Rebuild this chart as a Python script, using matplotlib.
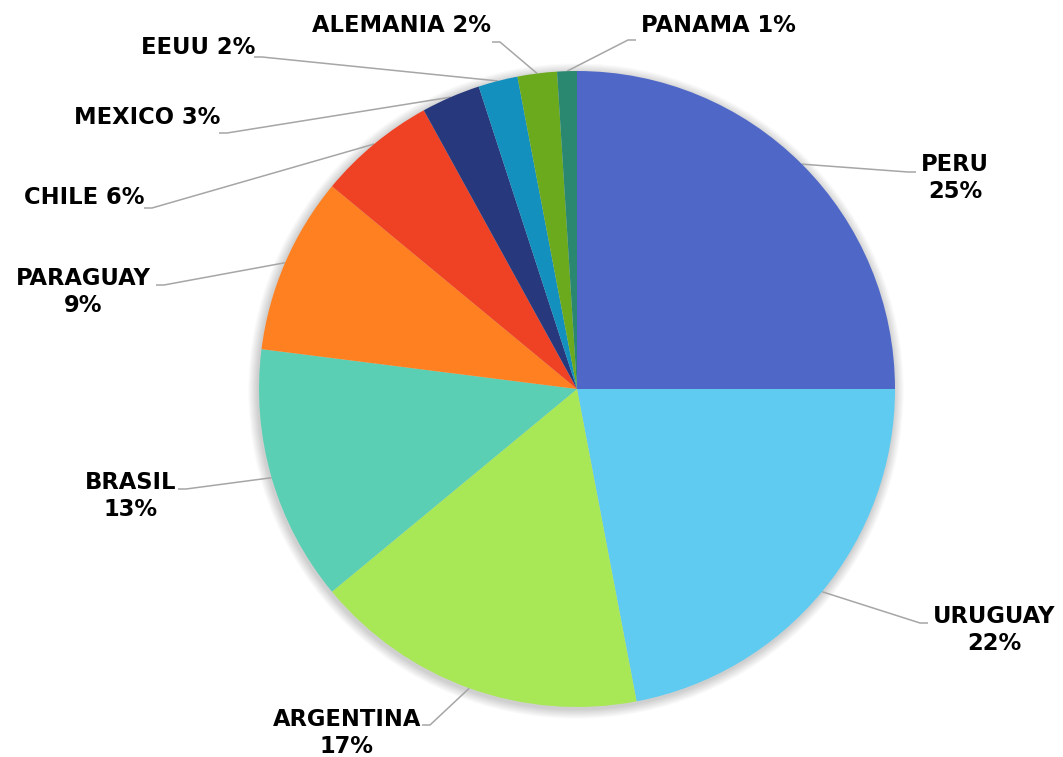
import numpy as np
import matplotlib.pyplot as plt
from matplotlib.patches import Circle

paises = ["PERU", "URUGUAY", "ARGENTINA", "BRASIL", "PARAGUAY",
          "CHILE", "MEXICO", "EEUU", "ALEMANIA", "PANAMA"]
porcentajes = [25, 22, 17, 13, 9, 6, 3, 2, 2, 1]
colores = ["#4F68C8", "#5FCBF1", "#A8E856", "#5BCFB4", "#FF8021",
           "#EF4123", "#27387D", "#1390BE", "#6AAA1C", "#2A8870"]

# label layout in pixel units (y measured from the top): text anchor, elbow, alignment, two lines?
etiquetas = {
    "PERU":      ((955, 178), (908, 172), "center", True),
    "URUGUAY":   ((994, 630), (920, 623), "center", True),
    "ARGENTINA": ((347, 733), (430, 725), "center", True),
    "BRASIL":    ((131, 496), (186, 489), "center", True),
    "PARAGUAY":  ((83, 292), (164, 285), "center", True),
    "CHILE":     ((145, 197), (152, 208), "right", False),
    "MEXICO":    ((220, 118), (227, 133), "right", False),
    "EEUU":      ((255, 48), (262, 57), "right", False),
    "ALEMANIA":  ((491, 26), (500, 42), "right", False),
    "PANAMA":    ((641, 26), (628, 40), "left", False),
}

W, H = 1063, 757
cx, cy, r = 577, H - 389, 318

fig = plt.figure(figsize=(W / 100, H / 100), dpi=100)
ax = fig.add_axes([0, 0, 1, 1])

# soft shadow behind the pie
for k in range(12):
    ax.add_patch(Circle((cx - 1, cy - 2), r + 1 + k * 0.8, color="black",
                        alpha=0.014, lw=0, zorder=0))

wedges, _ = ax.pie(porcentajes, colors=colores, startangle=90,
                   counterclock=False, center=(cx, cy), radius=r,
                   wedgeprops=dict(linewidth=0))
for w in wedges:
    w.set_zorder(2)

for w, pais, pct in zip(wedges, paises, porcentajes):
    ang = np.deg2rad((w.theta1 + w.theta2) / 2)
    px, py = cx + r * np.cos(ang), cy + r * np.sin(ang)
    (tx, ty), (ex, ey), ha, dos = etiquetas[pais]
    ty, ey = H - ty, H - ey
    # short horizontal stub next to the text
    sx = ex + 8 if (ha == "left" or ex > cx) else ex - 8
    ax.plot([px, ex, sx], [py, ey, ey], color="#A6A6A6", lw=1.1,
            zorder=1, solid_capstyle="butt")
    texto = f"{pais}\n{pct}%" if dos else f"{pais} {pct}%"
    ax.text(tx, ty, texto, ha=ha, va="center", fontsize=16.3,
            fontweight="bold", color="black", linespacing=1.2,
            family="DejaVu Sans")

ax.set_xlim(0, W)
ax.set_ylim(0, H)
ax.set_aspect("equal")
ax.axis("off")

fig.savefig("out.png", dpi=100, facecolor="white")
